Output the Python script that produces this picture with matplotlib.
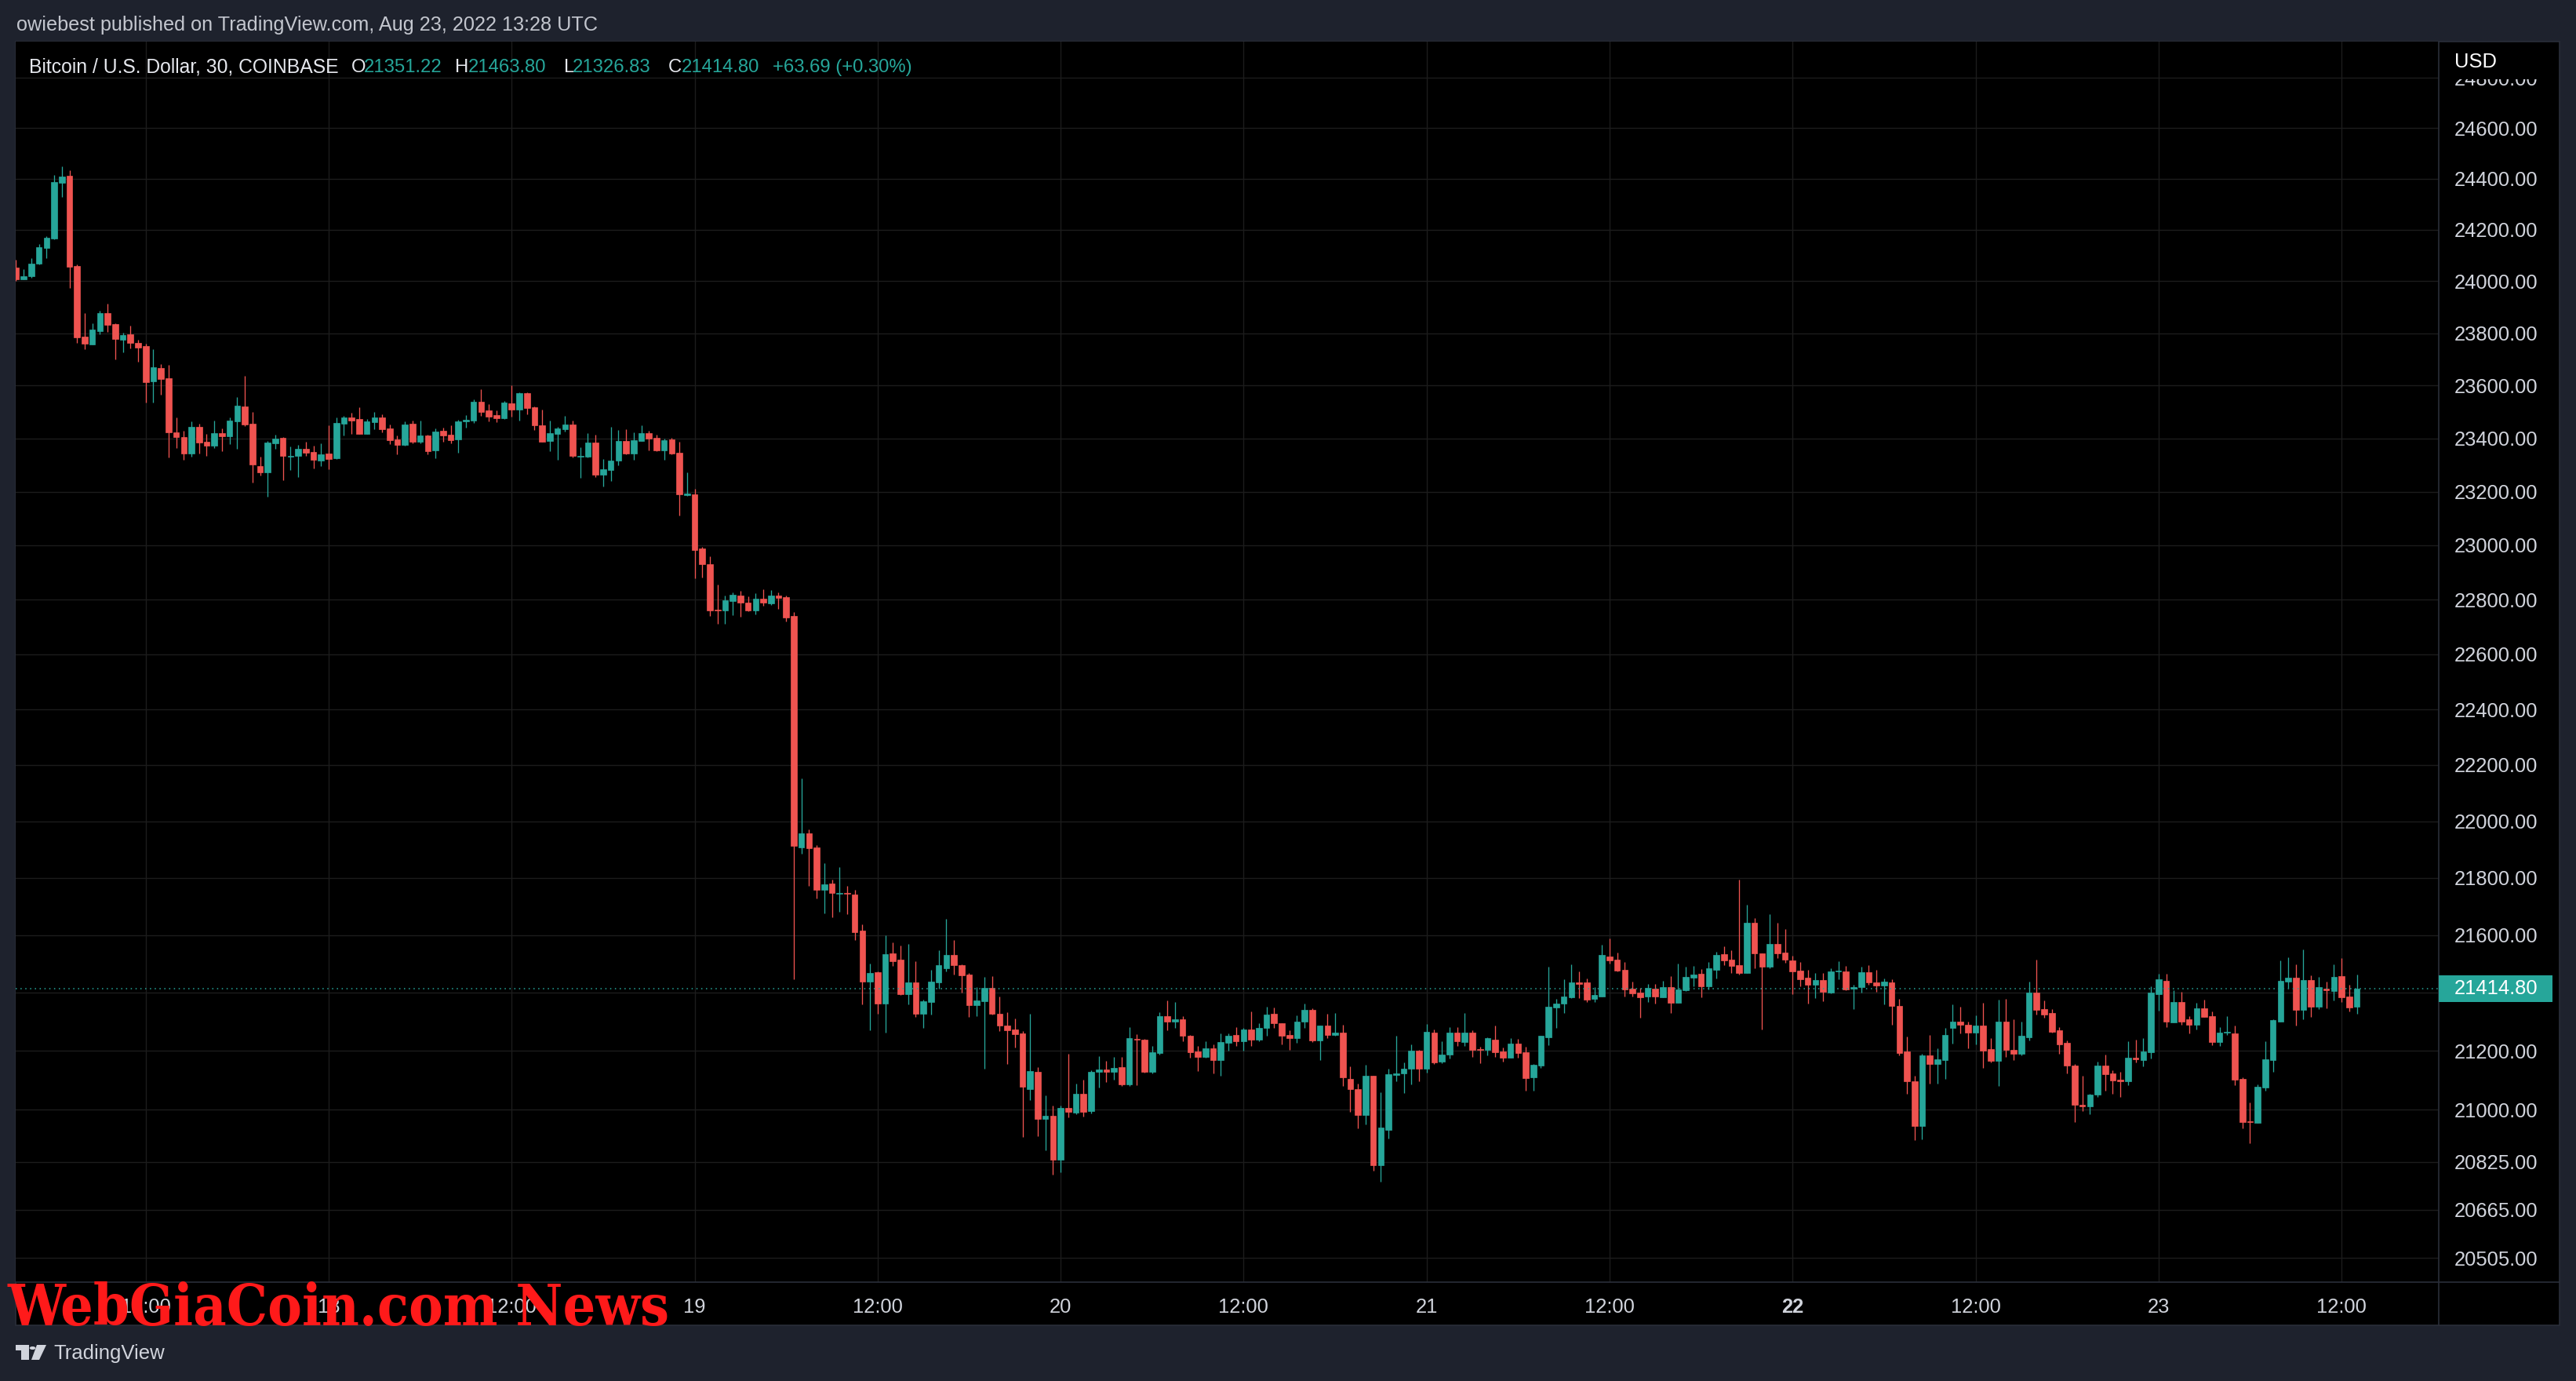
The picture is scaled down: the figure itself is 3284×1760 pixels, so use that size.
import matplotlib

matplotlib.use("Agg")
import matplotlib.pyplot as plt
import numpy as np
from matplotlib import font_manager
from matplotlib.lines import Line2D
from matplotlib.patches import Circle, Polygon, Rectangle
from matplotlib.ticker import NullLocator

# 30-minute BTC/USD bars, index 0 = Aug 18 00:00 UTC
first_bar = -41

opens = [
    24052, 24008, 24020, 24068, 24130, 24165, 24385, 24412, 24059, 23786,
    23757, 23808, 23877, 23835, 23775, 23796, 23763, 23751, 23617, 23666,
    23628, 23424, 23406, 23344, 23443, 23387, 23373, 23421, 23408, 23465,
    23520, 23455, 23296, 23273, 23382, 23403, 23331, 23333, 23361, 23349,
    23315, 23343, 23325, 23455, 23479, 23473, 23418, 23462, 23479, 23438,
    23397, 23376, 23455, 23388, 23411, 23355, 23429, 23414, 23397, 23465,
    23468, 23538, 23506, 23488, 23476, 23532, 23509, 23570, 23517, 23450,
    23390, 23418, 23435, 23452, 23330, 23330, 23384, 23264, 23282, 23316,
    23390, 23344, 23390, 23420, 23402, 23356, 23396, 23347, 23186, 23190,
    22988, 22929, 22762, 22759, 22794, 22816, 22790, 22759, 22803, 22785,
    22815, 22810, 22739, 21906, 21956, 21906, 21757, 21779, 21744, 21746,
    21741, 21616, 21438, 21472, 21362, 21537, 21515, 21396, 21435, 21329,
    21368, 21435, 21486, 21530, 21495, 21462, 21357, 21371, 21416, 21329,
    21288, 21274, 21259, 21070, 21129, 20969, 20980, 20832, 21006, 20991,
    21054, 20995, 21128, 21136, 21128, 21146, 21085, 21242, 21240, 21128,
    21194, 21319, 21300, 21310, 21253, 21199, 21180, 21210, 21170, 21229,
    21256, 21234, 21275, 21240, 21278, 21327, 21296, 21256, 21245, 21300,
    21340, 21237, 21286, 21256, 21262, 21106, 21069, 20982, 21117, 20813,
    20933, 21119, 21125, 21141, 21202, 21141, 21262, 21164, 21188, 21262,
    21232, 21262, 21207, 21205, 21240, 21199, 21178, 21226, 21196, 21110,
    21150, 21248, 21350, 21362, 21384, 21435, 21435, 21378, 21386, 21525,
    21515, 21479, 21413, 21400, 21386, 21413, 21384, 21419, 21365, 21408,
    21451, 21465, 21421, 21479, 21533, 21514, 21495, 21468, 21644, 21537,
    21491, 21570, 21540, 21513, 21477, 21453, 21429, 21443, 21400, 21473,
    21474, 21413, 21419, 21471, 21435, 21424, 21435, 21354, 21199, 21097,
    20946, 21186, 21156, 21170, 21280, 21300, 21291, 21262, 21286, 21207,
    21167, 21300, 21205, 21191, 21248, 21400, 21343, 21330, 21270, 21229,
    21150, 21016, 21011, 21051, 21150, 21123, 21101, 21097, 21178, 21170,
    21196, 21395, 21441, 21297, 21368, 21308, 21291, 21346, 21319, 21232,
    21262, 21259, 21105, 20962, 20957, 21076, 21170, 21302, 21438, 21451,
    21340, 21443, 21351, 21414, 21405, 21457, 21386, 21351.22,
]
highs = [
    24083, 24048, 24088, 24144, 24174, 24415, 24449, 24434, 24066, 23877,
    23838, 23886, 23913, 23838, 23802, 23829, 23775, 23760, 23739, 23681,
    23678, 23480, 23429, 23463, 23455, 23416, 23467, 23438, 23479, 23556,
    23636, 23500, 23331, 23391, 23414, 23405, 23370, 23376, 23387, 23371,
    23382, 23449, 23479, 23485, 23497, 23517, 23473, 23500, 23491, 23452,
    23411, 23464, 23467, 23467, 23414, 23438, 23441, 23449, 23470, 23488,
    23547, 23586, 23529, 23506, 23541, 23600, 23574, 23574, 23520, 23509,
    23467, 23444, 23485, 23467, 23366, 23420, 23414, 23322, 23444, 23432,
    23435, 23423, 23449, 23429, 23414, 23399, 23402, 23388, 23273, 23210,
    22994, 22959, 22855, 22816, 22825, 22831, 22813, 22822, 22837, 22834,
    22825, 22816, 22753, 22152, 21970, 21916, 21851, 21793, 21837, 21773,
    21759, 21637, 21502, 21475, 21600, 21575, 21564, 21569, 21510, 21375,
    21479, 21546, 21656, 21584, 21497, 21467, 21419, 21455, 21457, 21386,
    21334, 21312, 21269, 21327, 21145, 21049, 21014, 21014, 21191, 21089,
    21102, 21134, 21183, 21167, 21180, 21180, 21283, 21258, 21242, 21218,
    21333, 21373, 21367, 21319, 21256, 21218, 21234, 21223, 21261, 21261,
    21283, 21278, 21335, 21294, 21351, 21348, 21296, 21272, 21321, 21364,
    21346, 21286, 21327, 21330, 21289, 21149, 21088, 21154, 21117, 21061,
    21141, 21251, 21162, 21224, 21204, 21292, 21275, 21234, 21283, 21281,
    21330, 21272, 21215, 21248, 21286, 21213, 21245, 21242, 21215, 21157,
    21251, 21489, 21379, 21446, 21497, 21473, 21449, 21419, 21566, 21587,
    21539, 21506, 21438, 21416, 21430, 21430, 21441, 21457, 21500, 21489,
    21492, 21481, 21506, 21541, 21560, 21546, 21794, 21706, 21660, 21537,
    21673, 21643, 21621, 21527, 21507, 21480, 21467, 21467, 21486, 21510,
    21492, 21427, 21490, 21495, 21478, 21449, 21446, 21379, 21250, 21116,
    21191, 21256, 21210, 21278, 21359, 21351, 21302, 21321, 21365, 21245,
    21376, 21379, 21308, 21302, 21438, 21514, 21373, 21343, 21283, 21237,
    21156, 21116, 21054, 21164, 21188, 21134, 21128, 21234, 21240, 21245,
    21422, 21465, 21465, 21408, 21403, 21319, 21365, 21376, 21335, 21283,
    21319, 21286, 21111, 21026, 21086, 21234, 21308, 21511, 21522, 21497,
    21551, 21459, 21454, 21438, 21497, 21519, 21427, 21463.80,
]
lows = [
    24002, 24006, 24014, 24065, 24090, 24162, 24329, 23974, 23763, 23738,
    23757, 23796, 23805, 23700, 23726, 23742, 23691, 23536, 23536, 23566,
    23327, 23363, 23319, 23331, 23343, 23333, 23363, 23351, 23379, 23360,
    23447, 23234, 23259, 23181, 23360, 23243, 23282, 23254, 23335, 23288,
    23297, 23285, 23322, 23411, 23416, 23418, 23418, 23435, 23422, 23379,
    23341, 23371, 23382, 23382, 23341, 23325, 23388, 23382, 23347, 23441,
    23459, 23485, 23465, 23462, 23473, 23482, 23468, 23491, 23432, 23388,
    23352, 23319, 23426, 23327, 23252, 23327, 23254, 23220, 23240, 23300,
    23341, 23319, 23390, 23356, 23352, 23319, 23341, 23110, 23183, 22877,
    22881, 22740, 22711, 22711, 22742, 22736, 22756, 22745, 22778, 22779,
    22767, 22720, 21447, 21885, 21771, 21729, 21677, 21663, 21680, 21674,
    21583, 21360, 21270, 21329, 21264, 21493, 21392, 21359, 21316, 21279,
    21324, 21414, 21475, 21463, 21400, 21316, 21319, 21140, 21324, 21269,
    21156, 21213, 20908, 21033, 20911, 20863, 20781, 20791, 20974, 20986,
    20976, 20987, 21076, 21093, 21101, 21081, 21082, 21084, 21126, 21123,
    21189, 21270, 21279, 21234, 21178, 21132, 21178, 21124, 21116, 21200,
    21218, 21200, 21218, 21234, 21251, 21278, 21223, 21205, 21229, 21278,
    21232, 21168, 21245, 21251, 21082, 20993, 20937, 20950, 20794, 20757,
    20903, 21097, 21058, 21087, 21098, 21126, 21156, 21158, 21174, 21218,
    21218, 21180, 21159, 21186, 21180, 21164, 21178, 21178, 21066, 21066,
    21142, 21221, 21280, 21330, 21382, 21382, 21367, 21367, 21386, 21500,
    21474, 21386, 21386, 21314, 21367, 21364, 21384, 21330, 21365, 21405,
    21421, 21384, 21411, 21449, 21495, 21467, 21462, 21468, 21484, 21275,
    21486, 21521, 21504, 21396, 21422, 21364, 21381, 21370, 21397, 21448,
    21408, 21343, 21400, 21427, 21402, 21361, 21289, 21186, 21054, 20897,
    20901, 21088, 21088, 21105, 21226, 21259, 21210, 21223, 21143, 21162,
    21080, 21180, 21168, 21186, 21237, 21324, 21313, 21262, 21191, 21124,
    20958, 20997, 20986, 21043, 21064, 21054, 21043, 21084, 21160, 21149,
    21174, 21338, 21281, 21297, 21289, 21259, 21275, 21316, 21221, 21218,
    21256, 21084, 20937, 20887, 20955, 21066, 21130, 21302, 21416, 21286,
    21308, 21316, 21343, 21346, 21373, 21367, 21335, 21326.83,
]
closes = [
    24008, 24019, 24067, 24131, 24168, 24387, 24409, 24056, 23784, 23760,
    23814, 23877, 23833, 23778, 23793, 23762, 23746, 23614, 23669, 23625,
    23424, 23406, 23344, 23443, 23384, 23373, 23421, 23408, 23467, 23523,
    23452, 23301, 23273, 23384, 23399, 23335, 23335, 23361, 23347, 23318,
    23340, 23323, 23458, 23480, 23467, 23418, 23464, 23479, 23435, 23394,
    23376, 23452, 23388, 23411, 23352, 23426, 23412, 23394, 23464, 23470,
    23538, 23500, 23482, 23476, 23535, 23509, 23570, 23515, 23448, 23388,
    23420, 23438, 23452, 23333, 23335, 23384, 23264, 23285, 23316, 23390,
    23344, 23393, 23420, 23400, 23356, 23393, 23344, 23189, 23192, 22984,
    22929, 22759, 22759, 22797, 22818, 22790, 22759, 22804, 22788, 22815,
    22806, 22734, 21912, 21956, 21903, 21757, 21776, 21746, 21748, 21744,
    21611, 21438, 21468, 21362, 21534, 21510, 21394, 21435, 21329, 21370,
    21438, 21495, 21530, 21495, 21461, 21357, 21373, 21416, 21327, 21286,
    21271, 21257, 21077, 21132, 20969, 20980, 20832, 21006, 20992, 21054,
    20992, 21129, 21136, 21128, 21143, 21087, 21245, 21238, 21128, 21196,
    21319, 21302, 21310, 21253, 21196, 21180, 21210, 21170, 21232, 21253,
    21234, 21275, 21240, 21278, 21324, 21294, 21253, 21245, 21302, 21340,
    21237, 21286, 21256, 21262, 21109, 21069, 20982, 21117, 20813, 20941,
    21122, 21125, 21141, 21202, 21141, 21265, 21162, 21188, 21262, 21234,
    21262, 21205, 21205, 21243, 21196, 21178, 21226, 21194, 21108, 21154,
    21251, 21351, 21362, 21386, 21435, 21431, 21375, 21392, 21530, 21511,
    21477, 21411, 21397, 21384, 21416, 21386, 21419, 21365, 21411, 21454,
    21462, 21421, 21484, 21530, 21511, 21492, 21468, 21644, 21535, 21491,
    21570, 21537, 21515, 21475, 21448, 21429, 21443, 21402, 21473, 21476,
    21411, 21419, 21471, 21435, 21424, 21438, 21354, 21194, 21097, 20946,
    21186, 21156, 21172, 21256, 21302, 21289, 21262, 21286, 21202, 21167,
    21300, 21205, 21191, 21251, 21400, 21340, 21324, 21267, 21223, 21150,
    21016, 21011, 21051, 21150, 21120, 21099, 21098, 21178, 21172, 21199,
    21400, 21446, 21300, 21368, 21302, 21291, 21346, 21316, 21232, 21262,
    21267, 21103, 20958, 20958, 21078, 21172, 21305, 21441, 21451, 21340,
    21443, 21351, 21419, 21408, 21454, 21384, 21348, 21414.80,
]

price_ticks = [24800, 24600, 24400, 24200, 24000, 23800, 23600, 23400, 23200, 23000,
               22800, 22600, 22400, 22200, 22000, 21800, 21600, 21400, 21200, 21000,
               20825, 20665, 20505]
time_ticks = [-24, 0, 24, 48, 72, 96, 120, 144, 168, 192, 216, 240, 264]
time_labels = ["12:00", "18", "12:00", "19", "12:00", "20", "12:00",
               "21", "12:00", "22", "12:00", "23", "12:00"]
change, change_pct = 63.69, 0.30

UP = "#26a69a"
DOWN = "#ef5350"
BG = "#1e222d"
BORDER = "#2a2e39"
TEXT = "#d1d4dc"

W, H = 3284, 1760


def fx(x):
    return x / W


def fy(y):
    return 1 - y / H


plt.rcParams["font.family"] = ["Liberation Sans", "DejaVu Sans"]

fig = plt.figure(figsize=(W / 100, H / 100), dpi=100, facecolor=BG)

# black chart panel behind everything
fig.add_artist(Rectangle((fx(20), fy(1689)), (3263 - 20) / W, (1689 - 53) / H,
                         transform=fig.transFigure, facecolor="black",
                         edgecolor=BORDER, lw=1.2, zorder=-5))

ax = fig.add_axes([fx(20), fy(1634), (3109 - 20) / W, (1634 - 53) / H])
ax.set_facecolor("black")
ax.set_yscale("log")

o = np.array(opens, dtype=float)
h = np.array(highs, dtype=float)
l = np.array(lows, dtype=float)
c = np.array(closes, dtype=float)
x = np.arange(first_bar, first_bar + len(o))
h = np.maximum(h, np.maximum(o, c))
l = np.minimum(l, np.minimum(o, c))
colors = np.where(c >= o, UP, DOWN)

ax.vlines(x, l, h, colors=colors, lw=0.95, zorder=3)
body_lo = np.minimum(o, c)
body_hi = np.maximum(o, c)
ax.bar(x, body_hi - body_lo, bottom=body_lo, width=0.78, color=colors,
       edgecolor=colors, linewidth=0.5, zorder=4)

ax.axhline(c[-1], color=UP, lw=1.1, ls=(0, (1, 3)), zorder=5)

ax.set_xlim(-41.05, 276.75)
ax.set_ylim(20425, 24945)

ax.set_yticks(price_ticks, ["" if v == 21400 else f"{v:.2f}" for v in price_ticks])
ax.yaxis.set_minor_locator(NullLocator())
ax.yaxis.tick_right()
ax.set_xticks(time_ticks, time_labels)
ax.xaxis.set_minor_locator(NullLocator())
ax.tick_params(axis="both", length=0, pad=14.4, labelsize=18.4, labelcolor=TEXT)
ax.get_xticklabels()[time_labels.index("22")].set_fontweight("bold")
ax.grid(True, color="#1c1c1c", lw=1.0, zorder=0)
ax.set_axisbelow(True)
for s in ax.spines.values():
    s.set_visible(False)

# panel separators
fig.add_artist(Line2D([fx(3109), fx(3109)], [fy(53), fy(1689)], transform=fig.transFigure,
                      color=BORDER, lw=1.2, zorder=2))
fig.add_artist(Line2D([fx(20), fx(3263)], [fy(1634), fy(1634)], transform=fig.transFigure,
                      color=BORDER, lw=1.2, zorder=2))

# price scale header
fig.add_artist(Rectangle((fx(3110), fy(101)), (3262 - 3110) / W, (101 - 54) / H,
                         transform=fig.transFigure, facecolor="black", lw=0, zorder=2))
fig.text(fx(3129), fy(79), "USD", color="white", fontsize=18.4, va="center", ha="left", zorder=3)

# last price tag
fig.add_artist(Rectangle((fx(3109), fy(1277)), (3254 - 3109) / W, 34 / H,
                         transform=fig.transFigure, facecolor=UP, lw=0, zorder=2))
fig.text(fx(3129), fy(1260), f"{c[-1]:.2f}", color="white", fontsize=18.4,
         va="center", ha="left", zorder=3)

# header lines
fig.text(fx(21), fy(32), "owiebest published on TradingView.com, Aug 23, 2022 13:28 UTC",
         color="#c3c6ce", fontsize=18.2, va="center", ha="left")
title_y = fy(86)
pieces = [
    (37, "Bitcoin / U.S. Dollar, 30, COINBASE", "#e6e8ee"),
    (448, "O", "#e6e8ee"), (464, f"{o[-1]:.2f}", UP),
    (580, "H", "#e6e8ee"), (597, f"{h[-1]:.2f}", UP),
    (719, "L", "#e6e8ee"), (730, f"{l[-1]:.2f}", UP),
    (852, "C", "#e6e8ee"), (869, f"{c[-1]:.2f}", UP),
    (985, f"+{change:.2f} (+{change_pct:.2f}%)", UP),
]
for px, txt, col in pieces:
    fs = 17.8 if px == 37 else 17.2
    fig.text(fx(px), title_y, txt, color=col, fontsize=fs, va="center", ha="left")

# watermark: prefer a condensed bold serif if one is installed
condensed = [f for f in font_manager.fontManager.ttflist
             if f.name == "DejaVu Serif" and "ondensed" in str(f.stretch) + f.fname
             and f.weight in ("bold", 700)]
if condensed:
    wm_font = font_manager.FontProperties(fname=condensed[0].fname)
else:
    wm_font = font_manager.FontProperties(family="Liberation Serif", weight="bold")
wm = fig.text(fx(9), fy(1689), "WebGiaCoin.com News", color="#ff1a1a", fontsize=60,
              fontproperties=wm_font, va="baseline", ha="left", zorder=6)
wm.set_fontsize(60)
renderer = fig.canvas.get_renderer()
wm_width = wm.get_window_extent(renderer).width
wm.set_fontsize(60 * 845 / wm_width)

# TradingView footer logo
logo = "#d1d4dc"
fig.add_artist(Rectangle((fx(20), fy(1721)), 17 / W, 7 / H, transform=fig.transFigure,
                         facecolor=logo, lw=0))
fig.add_artist(Rectangle((fx(27), fy(1733)), 10 / W, 19 / H, transform=fig.transFigure,
                         facecolor=logo, lw=0))
fig.add_artist(Circle((fx(41.5), fy(1718)), 3.8 / W, transform=fig.transFigure,
                      facecolor=logo, lw=0))
fig.add_artist(Polygon([(fx(47), fy(1714)), (fx(59), fy(1714)), (fx(50), fy(1733)),
                        (fx(40), fy(1733))], closed=True, transform=fig.transFigure,
                       facecolor=logo, lw=0))
fig.text(fx(68), fy(1725), "TradingView", color=logo, fontsize=18.5, va="center", ha="left")

fig.savefig("out.png", dpi=100, facecolor=BG)
